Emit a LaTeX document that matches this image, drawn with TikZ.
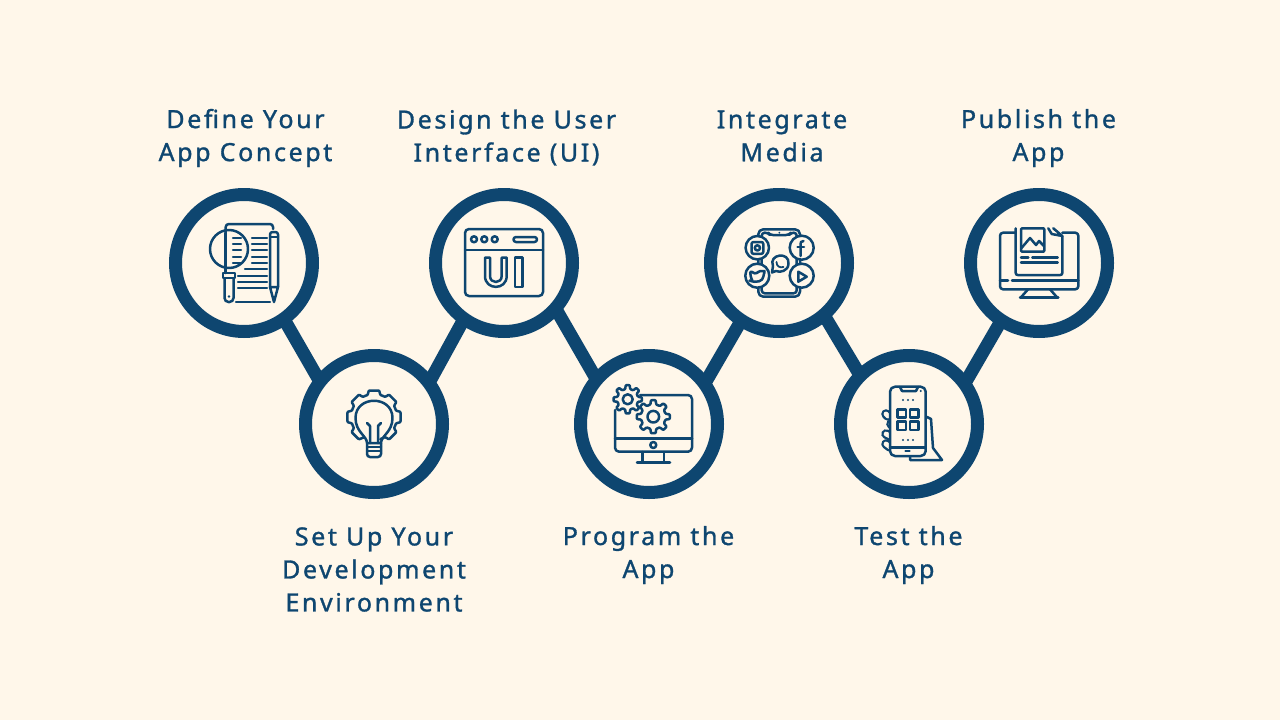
\documentclass[tikz,border=0pt]{standalone}
\usepackage{fontspec}
\setmainfont{Noto Sans}[LetterSpace=10.5, FakeBold=1.2]
\definecolor{bgcream}{HTML}{FFF7EA}
\definecolor{ringblue}{HTML}{0E4670}
\tikzset{
    stepring/.style={shape=circle, draw=ringblue, fill=bgcream, line width=13pt, minimum size=137pt, inner sep=0pt},
    steplink/.style={draw=ringblue, line width=13pt, shorten >=-5pt, shorten <=-5pt},
    steplabel/.style={text=ringblue, align=center, font=\fontsize{25}{33}\selectfont},
    iconline/.style={draw=ringblue, line width=2.5pt, line cap=round, line join=round},
    iconfill/.style={iconline, fill=bgcream},
    capsule/.style={draw=ringblue, double=bgcream, double distance=4.8pt, line width=2.4pt, line cap=round}
}
% gear: centre, teeth, outer radius, inner radius
\newcommand{\gearicon}[4]{
    \pgfmathsetmacro{\gearstep}{360/#2}
    \begin{scope}[shift={#1}]
        \draw[iconfill, rounded corners=0.8pt] (-0.3*\gearstep:#4)
            \foreach \i in {1,...,#2} {
                -- ({(\i-1)*\gearstep-0.18*\gearstep}:#3) -- ({(\i-1)*\gearstep+0.18*\gearstep}:#3)
                -- ({(\i-1)*\gearstep+0.3*\gearstep}:#4) -- ({\i*\gearstep-0.3*\gearstep}:#4)
            } -- cycle;
    \end{scope}
}
\begin{document}
\begin{tikzpicture}[x=1pt, y=-1pt]
    \useasboundingbox[fill=bgcream] (0, 0) rectangle (1280, 720);

    \node[stepring] (define) at (244, 263) {};
    \node[stepring] (setup) at (374, 424) {};
    \node[stepring] (design) at (504, 263) {};
    \node[stepring] (program) at (649, 424) {};
    \node[stepring] (integrate) at (779, 263) {};
    \node[stepring] (test) at (909, 424) {};
    \node[stepring] (publish) at (1039, 263) {};

    \draw[steplink] (define.-55) -- (setup.140);
    \draw[steplink] (setup.39) -- (design.-125);
    \draw[steplink] (design.-43) -- (program.138);
    \draw[steplink] (program.38) -- (integrate.-123);
    \draw[steplink] (integrate.-50) -- (test.134);
    \draw[steplink] (test.38) -- (publish.-123);

    \node[steplabel] (definetext) at (245.5, 138) {Define Your\\App Concept};
    \node[steplabel] (designtext) at (506.5, 137.5) {Design the User\\Interface (UI)};
    \node[steplabel] (integratetext) at (782, 136) {Integrate\\Media};
    \node[steplabel] (publishtext) at (1038.5, 138) {Publish the\\App};
    \node[steplabel] (setuptext) at (374, 569.5) {Set Up Your\\Development\\Environment};
    \node[steplabel] (programtext) at (648.5, 555) {Program the\\App};
    \node[steplabel] (testtext) at (908.5, 555) {Test the\\App};

    % document and magnifier
    \draw[iconline, rounded corners=3pt] (225.7, 233) -- (225.7, 224) -- (273, 224) -- (273, 229);
    \draw[iconline] (225.7, 233) -- (225.7, 273);
    \foreach \y in {238, 244, 250, 257, 263} {
        \draw[iconline] (233, \y) -- (241, \y);
        \draw[iconline] (252, \y) -- (267, \y);
    }
    \draw[iconline] (245, 269) -- (267, 269);
    \draw[iconline] (238, 276) -- (267, 276);
    \draw[iconline] (238, 282) -- (267, 282);
    \draw[iconline] (238, 288) -- (267, 288);
    \draw[iconline] (236, 302) -- (270, 302);
    \draw[iconline] (229, 249) circle (19);
    \draw[iconline] (223, 273) rectangle (235, 278);
    \draw[iconline, rounded corners=4pt] (224.5, 278) -- (224.5, 302) -- (233.5, 302) -- (233.5, 278);
    \fill[ringblue] (229, 296.5) circle (1.3);
    \draw[iconline, rounded corners=2.5pt] (270, 287) -- (270, 232) -- (278, 232) -- (278, 287);
    \draw[iconline] (270, 237) -- (278, 237);
    \draw[iconline] (270, 287) -- (278, 287) -- (274, 302) -- cycle;

    % bulb in a gear
    \begin{scope}[shift={(374, 417)}]
        \draw[iconline, rounded corners=0.8pt] (117:23)
            \foreach \a in {135, 180, 225, 270, 315, 0, 45} {
                -- (\a-11:27) -- (\a+11:27) -- (\a+16:23) -- (\a+29:23)
            };
    \end{scope}
    \draw[iconline] (367, 443) .. controls (367, 436) and (355.5, 432) .. (355.5, 418)
        .. controls (355.5, 395) and (392.5, 395) .. (392.5, 418)
        .. controls (392.5, 432) and (381, 436) .. (381, 443) -- cycle;
    \draw[iconline] (367, 423) -- (370, 426) -- (370, 443);
    \draw[iconline] (381, 423) -- (378, 426) -- (378, 443);
    \draw[iconline] (367, 447) -- (381, 447);
    \draw[iconline] (367, 451) -- (381, 451);
    \draw[iconline, rounded corners=3pt] (367, 443) -- (367, 457) -- (381, 457) -- (381, 443);

    % UI window
    \draw[iconline, rounded corners=4pt] (465, 229) rectangle (543, 296);
    \draw[iconline] (465, 250) -- (543, 250);
    \foreach \x in {474, 484.3, 494.7} {
        \draw[iconline] (\x, 239.3) circle (3);
    }
    \draw[iconline, rounded corners=2.5pt] (513.5, 237) rectangle (537, 242);
    \draw[iconline] (485, 257.7) -- (490, 257.7) -- (490, 276) .. controls (490, 284) and (501.7, 284) .. (501.7, 276)
        -- (501.7, 257.7) -- (506.7, 257.7) -- (506.7, 276) .. controls (506.7, 290.5) and (485, 290.5) .. (485, 276) -- cycle;
    \draw[iconline] (515, 257.7) rectangle (522.7, 287);

    % monitor with gears
    \draw[iconline, rounded corners=4pt] (615, 410) -- (615, 451.7) -- (692, 451.7) -- (692, 395) -- (640, 395);
    \draw[iconline] (615, 438.3) -- (692, 438.3);
    \draw[iconline] (653.3, 445) circle (3);
    \draw[iconline] (642.7, 452) -- (642.7, 462.7);
    \draw[iconline] (664, 452) -- (664, 462.7);
    \draw[iconline] (637, 462.7) -- (670, 462.7);
    \gearicon{(627.7, 399.3)}{8}{14.3}{10.5}
    \draw[iconline] (627.7, 399.3) circle (5);
    \gearicon{(653.3, 416.7)}{8}{16.7}{12.5}
    \draw[iconline] (653.3, 416.7) circle (5.8);

    % phone with social media
    \draw[iconline, rounded corners=5pt] (758.3, 229.3) rectangle (800, 296.7);
    \draw[iconline, rounded corners=3pt] (761.7, 293.3) -- (761.7, 232.7) -- (768, 232.7) -- (770, 235) -- (789, 235) -- (791, 232.7) -- (796.7, 232.7) -- (796.7, 293.3) -- cycle;
    \fill[ringblue] (779.3, 232.7) circle (1);
    \draw[iconfill] (757.3, 247.7) circle (11.7);
    \draw[iconfill] (801.7, 247.7) circle (12);
    \draw[iconfill] (757.3, 275.7) circle (12);
    \draw[iconfill] (801.7, 275.7) circle (12);
    \draw[iconline, rounded corners=2pt] (751.5, 242) rectangle (763.3, 253.8);
    \draw[iconline] (757.4, 247.9) circle (2.6);
    \draw[iconline] (803.5, 241) .. controls (800.5, 240.5) and (800.5, 243) .. (800.5, 245) -- (800.5, 256);
    \draw[iconline] (797.5, 247) -- (804, 247);
    \draw[iconline, rounded corners=1.5pt] (749.5, 280.5) -- (753, 281.5) -- (751, 278) -- (750, 271) -- (756, 274) -- (759, 271) -- (763, 271) -- (765, 271) -- (763.5, 275)
        .. controls (763, 281) and (757, 283.5) .. (749.5, 280.5);
    \draw[iconline] (798.3, 271.7) -- (806.7, 276.7) -- (798.3, 281.7) -- cycle;
    \draw[iconfill] (772, 272.5) -- (773, 266) .. controls (768, 254) and (790, 251) .. (788.5, 264)
        .. controls (788, 271) and (780, 273) .. (776, 271) -- cycle;
    \draw[line width=1.8pt, draw=ringblue, line cap=round] (776.5, 262) .. controls (776.5, 266.5) and (780, 268) .. (783.5, 267);

    % hand with phone
    \draw[iconline] (927, 417) -- (931, 419) -- (933, 448) -- (942, 460) -- (910, 460) -- (910, 456);
    \draw[capsule] (886, 414) -- (888, 416);
    \draw[capsule] (891, 424) -- (896, 428);
    \draw[capsule] (886, 434) -- (894, 438);
    \draw[capsule] (886, 444) -- (890, 447);
    \draw[iconfill, rounded corners=5pt] (890, 386.7) rectangle (925.7, 456);
    \draw[iconline] (900, 387) -- (902, 391) -- (916, 391) -- (918, 387);
    \fill[ringblue] (920.7, 391) circle (1.1);
    \draw[iconline] (890, 447.3) -- (925.7, 447.3);
    \draw[iconline] (905.5, 451) -- (909.5, 451);
    \foreach \x in {903, 908, 913} {
        \fill[ringblue] (\x, 400) circle (1.2);
        \fill[ringblue] (\x, 440) circle (1.2);
    }
    \foreach \x in {897.7, 910} {
        \foreach \y in {409.3, 421.7} {
            \draw[iconline] (\x, \y) rectangle (\x+8.3, \y+8.3);
        }
    }

    % publishing monitor
    \draw[iconline, rounded corners=3pt] (1015.7, 232.7) -- (1000, 232.7) -- (1000, 289.3) -- (1078.3, 289.3) -- (1078.3, 232.7) -- (1062.3, 232.7);
    \draw[iconline] (1000, 280.7) -- (1008, 280.7);
    \draw[iconline] (1012, 280.7) -- (1078.3, 280.7);
    \draw[iconline] (1028, 289.3) -- (1021, 297.3);
    \draw[iconline] (1050, 289.3) -- (1057, 297.3);
    \draw[iconline] (1020, 297.3) -- (1058.3, 297.3);
    \draw[iconline, rounded corners=2pt] (1015.7, 228.3) -- (1015.7, 275) -- (1062.3, 275) -- (1062.3, 236);
    \draw[iconline] (1048.3, 228.3) -- (1051.7, 234) -- (1062.3, 236) -- (1053.3, 228.3);
    \draw[iconline, rounded corners=1pt] (1021, 228.3) rectangle (1044.3, 251.7);
    \draw[iconline] (1021.5, 248) -- (1030, 238) -- (1036, 245) -- (1039, 241) -- (1044, 246);
    \draw[iconline] (1021, 257.7) -- (1028.3, 257.7);
    \draw[iconline] (1032.3, 257.7) -- (1057.7, 257.7);
    \draw[iconline] (1021, 262.7) -- (1057.7, 262.7);
\end{tikzpicture}
\end{document}
